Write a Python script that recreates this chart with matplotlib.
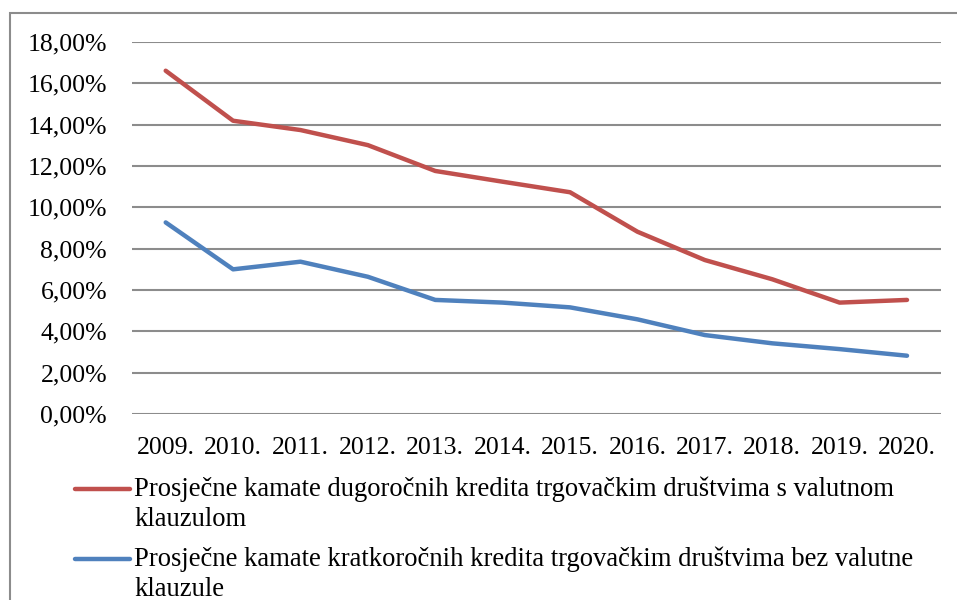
import matplotlib
matplotlib.use("Agg")
import matplotlib.pyplot as plt
from matplotlib.lines import Line2D
from matplotlib.patches import Rectangle
from matplotlib.ticker import FuncFormatter

plt.rcParams['font.family'] = ['Liberation Serif', 'DejaVu Serif']

years = ["2009.", "2010.", "2011.", "2012.", "2013.", "2014.", "2015.", "2016.",
         "2017.", "2018.", "2019.", "2020."]
long_term = [16.61, 14.19, 13.74, 13.01, 11.76, 11.24, 10.73, 8.82, 7.45, 6.52, 5.39, 5.52]
short_term = [9.27, 7.00, 7.37, 6.64, 5.52, 5.39, 5.16, 4.58, 3.82, 3.42, 3.14, 2.82]
label_long = ["Prosječne kamate dugoročnih kredita trgovačkim društvima s valutnom", "klauzulom"]
label_short = ["Prosječne kamate kratkoročnih kredita trgovačkim društvima bez valutne", "klauzule"]
yticks = [0, 2, 4, 6, 8, 10, 12, 14, 16, 18]

W, H = 957, 600
fig = plt.figure(figsize=(W / 100, H / 100), dpi=100)
ax = fig.add_axes([132 / W, (H - 414) / H, (940.7 - 132) / W, (414 - 42) / H])

x = list(range(len(years)))
red = "#C0504D"
blue = "#4F81BD"
l1, = ax.plot(x, [v / 100 for v in long_term], color=red, lw=3.2, solid_capstyle='round', solid_joinstyle='round', zorder=3)
l2, = ax.plot(x, [v / 100 for v in short_term], color=blue, lw=3.2, solid_capstyle='round', solid_joinstyle='round', zorder=3)

ax.set_xlim(-0.5, len(years) - 0.5)
ax.set_ylim(0, 0.18)
ax.set_yticks([t / 100 for t in yticks])
ax.yaxis.set_major_formatter(FuncFormatter(lambda v, p: f"{v*100:.2f}%".replace(".", ",")))
ax.set_xticks(x)
ax.set_xticklabels(years)
ax.grid(axis='y', color='#8c8c8c', lw=1.5)
ax.set_axisbelow(True)
for s in ax.spines.values():
    s.set_visible(False)
ax.tick_params(axis='both', length=0, labelsize=18.5, colors='black')
ax.tick_params(axis='y', pad=18)
ax.tick_params(axis='x', pad=16.5)

# legend drawn manually
def legend_entry(line, lines, y1):
    fig.add_artist(Line2D([75 / W, 130 / W], [(H - y1) / H] * 2, color=line.get_color(),
                          lw=3.2, solid_capstyle='round', transform=fig.transFigure))
    fig.text(134 / W, (H - y1) / H, lines[0], fontsize=19.2, va='center', ha='left')
    fig.text(134 / W, (H - y1 - 31) / H, lines[1], fontsize=19.2, va='center', ha='left')

legend_entry(l1, label_long, 489)
legend_entry(l2, label_short, 559)

fig.add_artist(Rectangle((10 / W, -0.1), 1.2, (H - 13) / H + 0.1, fill=False,
                         edgecolor='#8c8c8c', lw=1.5, transform=fig.transFigure))

fig.savefig("out.png", dpi=100)
